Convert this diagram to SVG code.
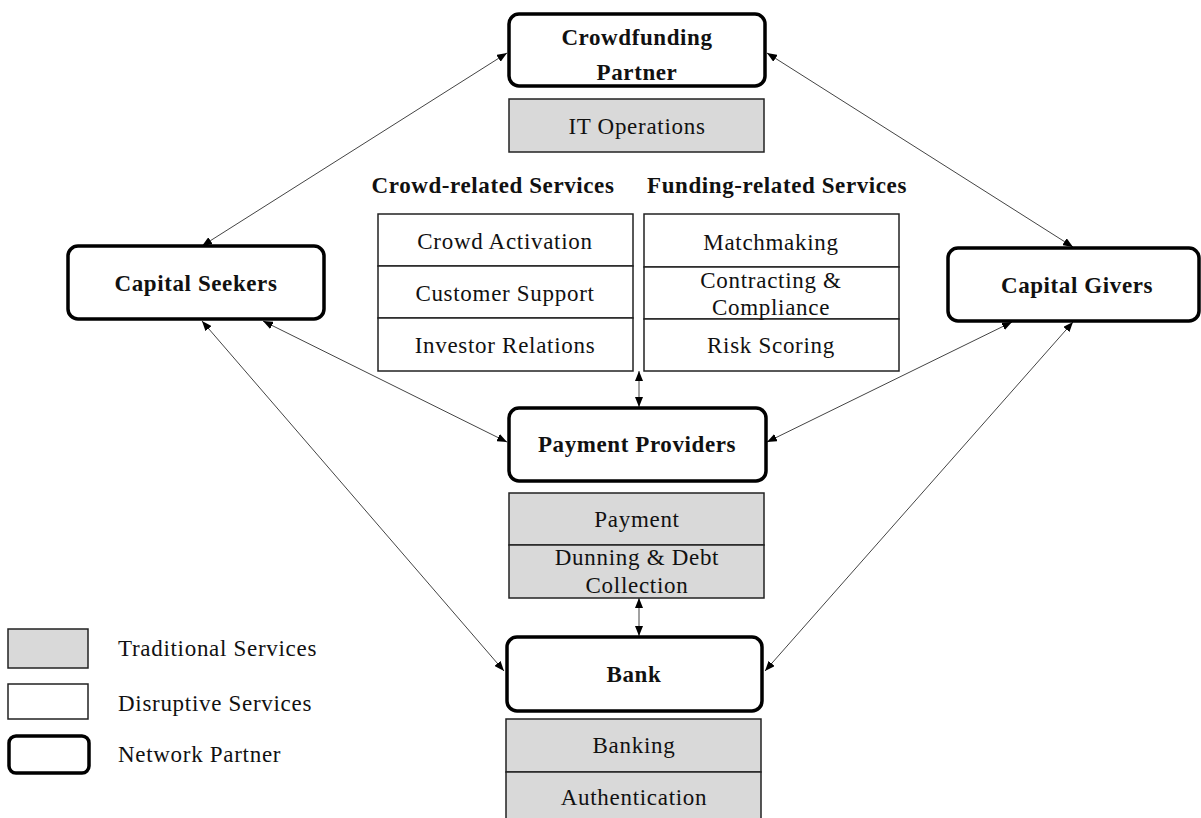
<svg xmlns="http://www.w3.org/2000/svg" width="1201" height="818" viewBox="0 0 1201 818">
<style>
.np{fill:#fff;stroke:#000;stroke-width:3.5}
.trad{fill:#d9d9d9;stroke:#222;stroke-width:1.5}
.dis{fill:#fff;stroke:#222;stroke-width:1.5}
.t{font-family:"Liberation Serif","Times New Roman",serif;font-size:23px;letter-spacing:0.7px;fill:#111;text-anchor:middle}
.b{font-family:"Liberation Serif","Times New Roman",serif;font-size:23px;letter-spacing:0.6px;font-weight:bold;fill:#111;text-anchor:middle}
.l{font-family:"Liberation Serif","Times New Roman",serif;font-size:23px;letter-spacing:0.7px;fill:#111}
.c{stroke:#444;stroke-width:1;fill:none;marker-start:url(#ah);marker-end:url(#ah)}
</style>
<defs>
<marker id="ah" viewBox="0 0 10 8" refX="10" refY="4" markerWidth="10" markerHeight="8" markerUnits="userSpaceOnUse" orient="auto-start-reverse">
<path d="M0,0 L10,4 L0,8 Z" fill="#000"/>
</marker>
</defs>
<g id="connectors">
<line class="c" x1="202" y1="246" x2="507" y2="53"/>
<line class="c" x1="767" y1="53" x2="1073" y2="247"/>
<line class="c" x1="202" y1="321" x2="504" y2="671"/>
<line class="c" x1="263" y1="321" x2="507" y2="442"/>
<line class="c" x1="1012" y1="322" x2="767" y2="442"/>
<line class="c" x1="1073" y1="322" x2="765" y2="671"/>
<line class="c" x1="639" y1="371" x2="639" y2="407"/>
<line class="c" x1="639" y1="598" x2="639" y2="636"/>
</g>
<g id="crowdfunding-partner">
<rect class="np" x="509" y="14" width="256" height="72" rx="10"/>
<text class="b" x="637" y="45">Crowdfunding</text>
<text class="b" x="637" y="80">Partner</text>
</g>
<g id="it-operations">
<rect class="trad" x="509" y="99" width="255" height="53"/>
<text class="t" x="637" y="134">IT Operations</text>
</g>
<g id="crowd-services">
<text class="b" x="493" y="193">Crowd-related Services</text>
<rect class="dis" x="378" y="214" width="255" height="52"/>
<rect class="dis" x="378" y="266" width="255" height="52"/>
<rect class="dis" x="378" y="318" width="255" height="53"/>
<text class="t" x="505" y="249">Crowd Activation</text>
<text class="t" x="505" y="301">Customer Support</text>
<text class="t" x="505" y="353">Investor Relations</text>
</g>
<g id="funding-services">
<text class="b" x="777" y="193">Funding-related Services</text>
<rect class="dis" x="644" y="214" width="255" height="53"/>
<rect class="dis" x="644" y="267" width="255" height="52"/>
<rect class="dis" x="644" y="319" width="255" height="52"/>
<text class="t" x="771" y="250">Matchmaking</text>
<text class="t" x="771" y="288">Contracting &amp;</text>
<text class="t" x="771" y="315">Compliance</text>
<text class="t" x="771" y="353">Risk Scoring</text>
</g>
<g id="capital-seekers">
<rect class="np" x="68" y="246" width="256" height="73" rx="10"/>
<text class="b" x="196" y="291">Capital Seekers</text>
</g>
<g id="capital-givers">
<rect class="np" x="948" y="248" width="251" height="73" rx="10"/>
<text class="b" x="1077" y="293">Capital Givers</text>
</g>
<g id="payment-providers">
<rect class="np" x="509" y="408" width="257" height="73" rx="10"/>
<text class="b" x="637" y="452">Payment Providers</text>
</g>
<g id="payment-services">
<rect class="trad" x="509" y="493" width="255" height="52"/>
<rect class="trad" x="509" y="545" width="255" height="53"/>
<text class="t" x="637" y="527">Payment</text>
<text class="t" x="637" y="565">Dunning &amp; Debt</text>
<text class="t" x="637" y="593">Collection</text>
</g>
<g id="bank">
<rect class="np" x="507" y="637" width="255" height="74" rx="10"/>
<text class="b" x="634" y="682">Bank</text>
</g>
<g id="bank-services">
<rect class="trad" x="506" y="719" width="255" height="53"/>
<rect class="trad" x="506" y="772" width="255" height="50"/>
<text class="t" x="634" y="753">Banking</text>
<text class="t" x="634" y="805">Authentication</text>
</g>
<g id="legend">
<rect class="trad" x="8" y="629" width="80" height="39"/>
<text class="l" x="118" y="656">Traditional Services</text>
<rect class="dis" x="8" y="684" width="80" height="35"/>
<text class="l" x="118" y="711">Disruptive Services</text>
<rect class="np" x="9" y="736" width="80" height="37" rx="7"/>
<text class="l" x="118" y="762">Network Partner</text>
</g>
</svg>
